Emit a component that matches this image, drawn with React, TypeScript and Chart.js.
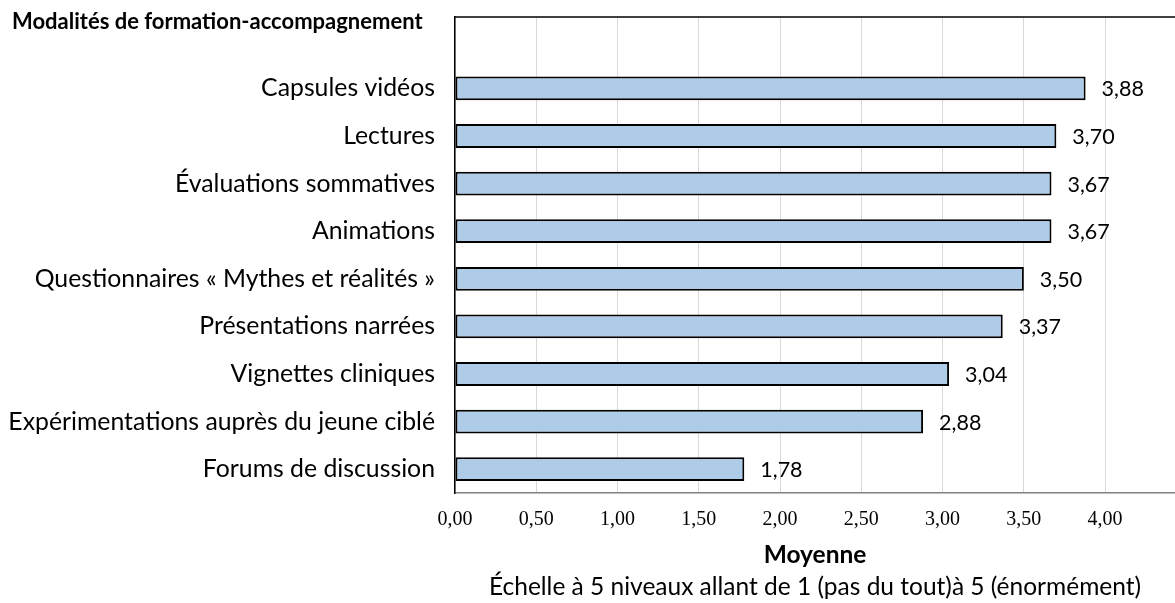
import React, { useEffect, useRef } from "react";
import { Chart, registerables } from "chart.js";

Chart.register(...registerables);

const chartTitle = "Modalités de formation-accompagnement";
const axisTitle = "Moyenne";
const axisSubtitle = "Échelle à 5 niveaux allant de 1 (pas du tout)à 5 (énormément)";

const categories = [
  "Capsules vidéos",
  "Lectures",
  "Évaluations sommatives",
  "Animations",
  "Questionnaires « Mythes et réalités »",
  "Présentations narrées",
  "Vignettes cliniques",
  "Expérimentations auprès du jeune ciblé",
  "Forums de discussion",
];

const values = [3.88, 3.7, 3.67, 3.67, 3.5, 3.37, 3.04, 2.88, 1.78];

const xMin = 0;
const xMax = 4.43;
const xStep = 0.5;

const fmt = (v: number) => v.toFixed(2).replace(".", ",");

const LABEL_FONT = "Lato";

const decorPlugin = {
  id: "decor",
  afterDraw(chart: any) {
    const { ctx, chartArea } = chart;
    const xs = chart.scales.x;
    const ys = chart.scales.y;
    ctx.save();
    // top border
    ctx.strokeStyle = "#000000";
    ctx.lineWidth = 1.5;
    ctx.beginPath();
    ctx.moveTo(chartArea.left, chartArea.top);
    ctx.lineTo(chartArea.right, chartArea.top);
    ctx.stroke();

    // value labels
    const meta = chart.getDatasetMeta(0);
    ctx.fillStyle = "#000000";
    ctx.font = `21.5px ${LABEL_FONT}`;
    ctx.textAlign = "left";
    ctx.textBaseline = "middle";
    meta.data.forEach((bar: any, i: number) => {
      const v = chart.data.datasets[0].data[i];
      if (v == null) return;
      const xe = xs.getPixelForValue(v);
      ctx.fillText(fmt(v), xe + 16, ys.getPixelForValue(i) + 1);
    });

    // chart title
    ctx.font = `bold 22px ${LABEL_FONT}`;
    ctx.textAlign = "left";
    ctx.fillText(chartTitle, 12, 22);

    // axis titles
    const cx = (chartArea.left + chartArea.right) / 2;
    ctx.textAlign = "center";
    ctx.font = `bold 24.5px ${LABEL_FONT}`;
    ctx.fillText(axisTitle, cx, chartArea.bottom + 62);
    ctx.font = `24.5px ${LABEL_FONT}`;
    ctx.fillText(axisSubtitle, cx, chartArea.bottom + 94);
    ctx.restore();
  },
};

export default function App() {
  const ref = useRef<HTMLCanvasElement | null>(null);
  useEffect(() => {
    document.body.style.margin = "0";
    if (!ref.current) return;
    const chart = new Chart(ref.current, {
      type: "bar",
      data: {
        labels: ["", ...categories],
        datasets: [
          {
            data: [null, ...values],
            backgroundColor: "#aecbe8",
            borderColor: "#000000",
            borderWidth: 2,
            borderSkipped: false,
            barPercentage: 0.5,
            categoryPercentage: 1,
          },
        ],
      },
      options: {
        indexAxis: "y",
        animation: false,
        responsive: true,
        maintainAspectRatio: false,
        layout: { padding: { top: 17, left: 0, right: 0, bottom: 0 } },
        plugins: {
          legend: { display: false },
          tooltip: { enabled: false },
          title: { display: false },
        },
        scales: {
          x: {
            type: "linear",
            min: xMin,
            max: xMax,
            afterFit: (s: any) => {
              s.height = 110;
              s.paddingLeft = 0;
              s.paddingRight = 0;
            },
            ticks: {
              stepSize: xStep,
              includeBounds: false,
              padding: 15,
              color: "#000000",
              font: { family: "Liberation Serif", size: 20 },
              callback: (v: any) => fmt(Number(v)),
            },
            grid: { color: "#d9d9d9", lineWidth: 1, drawTicks: false },
            border: { color: "#808080", width: 1.5 },
          },
          y: {
            type: "category",
            afterFit: (s: any) => {
              s.width = 455;
              s.paddingTop = 0;
              s.paddingBottom = 0;
            },
            ticks: {
              padding: 20,
              color: "#000000",
              autoSkip: false,
              font: { family: LABEL_FONT, size: 24.8 },
            },
            grid: { display: false, drawTicks: false },
            border: { color: "#000000", width: 1.5 },
          },
        },
      },
      plugins: [decorPlugin],
    });
    return () => chart.destroy();
  }, []);
  return (
    <div style={{ width: 1175, height: 603, position: "relative" }}>
      <canvas ref={ref} />
    </div>
  );
}
